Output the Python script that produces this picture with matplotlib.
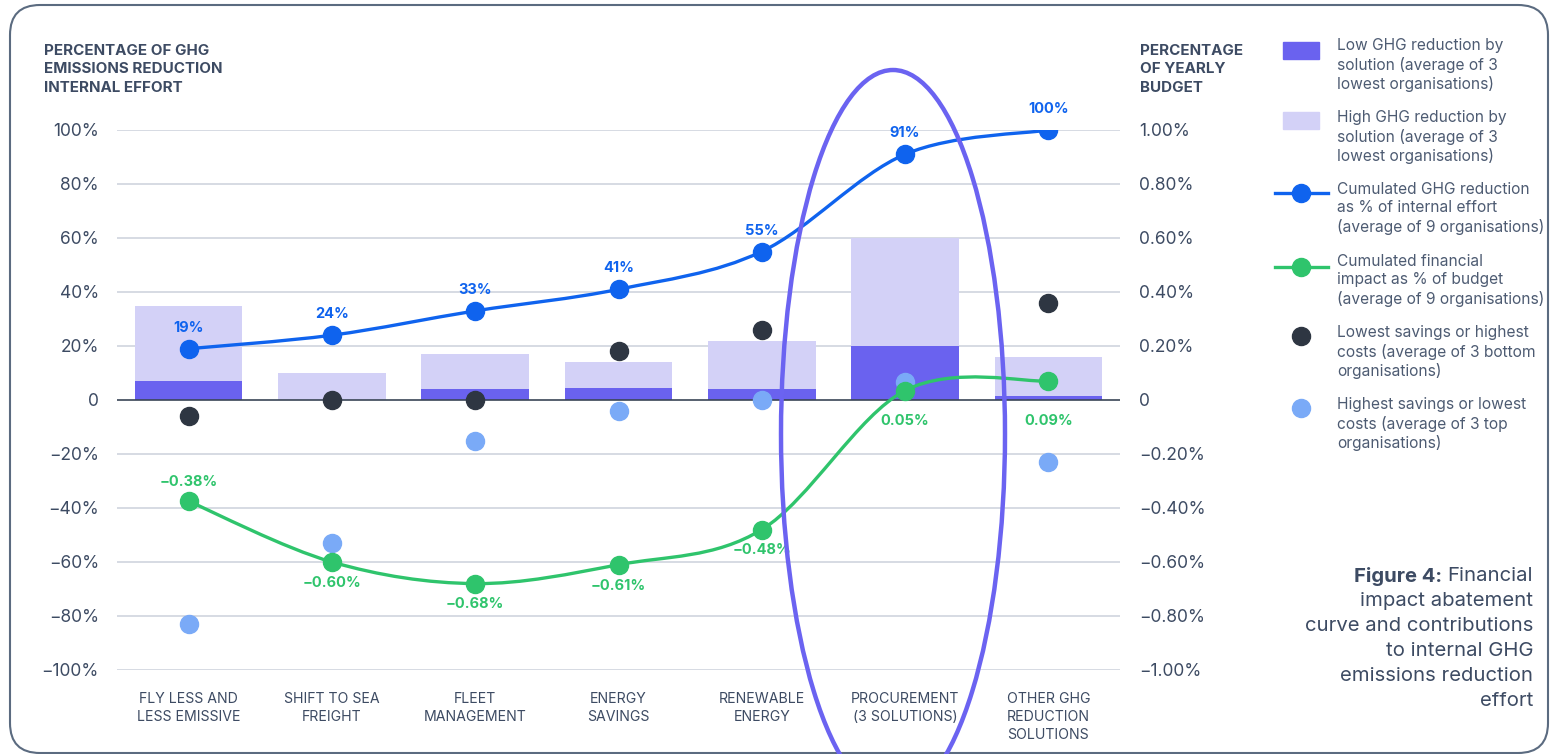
import numpy as np
import matplotlib
matplotlib.use("Agg")
import matplotlib.pyplot as plt
from matplotlib.path import Path
from matplotlib.patches import PathPatch, FancyBboxPatch, Ellipse, Rectangle
from matplotlib.lines import Line2D

plt.rcParams['font.family'] = ['Inter', 'DejaVu Sans']

# ---------------- data ----------------
categories = ["FLY LESS AND\nLESS EMISSIVE", "SHIFT TO SEA\nFREIGHT", "FLEET\nMANAGEMENT",
              "ENERGY\nSAVINGS", "RENEWABLE\nENERGY", "PROCUREMENT\n(3 SOLUTIONS)",
              "OTHER GHG\nREDUCTION\nSOLUTIONS"]
low_ghg = [7, 0, 4, 4.5, 4, 20, 1.5]          # % of internal effort
high_ghg = [35, 10, 17, 14, 22, 60, 16]       # % of internal effort
cum_ghg = [19, 24, 33, 41, 55, 91, 100]       # % of internal effort
cum_fin = [-0.375, -0.60, -0.68, -0.61, -0.48, 0.035, 0.07]   # % of budget (as drawn)
lowest_savings = [-0.06, 0.0, 0.0, 0.18, 0.26, np.nan, 0.36]
highest_savings = [-0.83, -0.53, -0.15, -0.04, 0.0, 0.065, -0.23]
left_ticks = [100, 80, 60, 40, 20, 0, -20, -40, -60, -80, -100]
left_tick_labels = ["100%", "80%", "60%", "40%", "20%", "0", "−20%", "−40%", "−60%", "−80%", "−100%"]
right_ticks = [1.0, 0.8, 0.6, 0.4, 0.2, 0, -0.2, -0.4, -0.6, -0.8, -1.0]
right_tick_labels = ["1.00%", "0.80%", "0.60%", "0.40%", "0.20%", "0", "−0.20%", "−0.40%", "−0.60%", "−0.80%", "−1.00%"]
ghg_labels = ["19%", "24%", "33%", "41%", "55%", "91%", "100%"]
fin_labels = ["−0.38%", "−0.60%", "−0.68%", "−0.61%", "−0.48%", "0.05%", "0.09%"]
fin_label_above = [True, False, False, False, False, False, False]

# ---------------- style ----------------
TXT = "#3d4b63"
LEG_TXT = "#4d5b72"
BLUE = "#0f63ee"
GREEN = "#2fc46c"
DARK = "#2e3642"
LIGHT = "#7aaaf7"
LOW_BAR = "#6a62ef"
HIGH_BAR = "#d3d1f7"
GRID = "#d3d8e0"
ELL = "#6b63f1"

W, H = 1550, 754
fig = plt.figure(figsize=(W / 100, H / 100), dpi=100)
fig.patch.set_facecolor("white")

x0, x1, ytop, ybot = 117, 1120, 130, 670
ax = fig.add_axes([x0 / W, 1 - ybot / H, (x1 - x0) / W, (ybot - ytop) / H])
ax2 = ax.twinx()
ax.set_zorder(1)
ax2.set_zorder(2)
ax.patch.set_visible(False)
ax2.patch.set_visible(False)

xs = np.arange(len(categories))
ax.set_xlim(-0.5, len(categories) - 0.5)
ax.set_ylim(-100, 100)
ax2.set_ylim(-1, 1)

for t in left_ticks:
    if t != 0:
        ax.axhline(t, color=GRID, lw=1.3, zorder=0)
ax.axhline(0, color="#3a4656", lw=1.2, zorder=2)

ax.bar(xs, high_ghg, width=0.75, color=HIGH_BAR, zorder=1)
ax.bar(xs, low_ghg, width=0.75, color=LOW_BAR, zorder=1.5)


def smooth_path(px, py):
    pts = np.column_stack([px, py]).astype(float)
    n = len(pts)
    verts = [pts[0]]
    codes = [Path.MOVETO]
    for i in range(n - 1):
        p0 = pts[max(i - 1, 0)]
        p1 = pts[i]
        p2 = pts[i + 1]
        p3 = pts[min(i + 2, n - 1)]
        verts += [p1 + (p2 - p0) / 6, p2 - (p3 - p1) / 6, p2]
        codes += [Path.CURVE4] * 3
    return Path(verts, codes)


ax.add_patch(PathPatch(smooth_path(xs, cum_ghg), fill=False, edgecolor=BLUE, lw=2.4, zorder=3))
ax.plot(xs, cum_ghg, "o", color=BLUE, ms=13, zorder=4)
for x, v, lab in zip(xs, cum_ghg, ghg_labels):
    ax.annotate(lab, (x, v), xytext=(0, 10), textcoords="offset points", ha="center", va="bottom",
                color=BLUE, fontsize=10.5, fontweight="bold", zorder=5)

ax2.plot(xs, lowest_savings, "o", color=DARK, ms=13, zorder=2)
ax2.plot(xs, highest_savings, "o", color=LIGHT, ms=13, zorder=2.5)
ax2.add_patch(PathPatch(smooth_path(xs, cum_fin), fill=False, edgecolor=GREEN, lw=2.4, zorder=3))
ax2.plot(xs, cum_fin, "o", color=GREEN, ms=13, zorder=4)
for x, v, lab, above in zip(xs, cum_fin, fin_labels, fin_label_above):
    anchor = v if above else min(v, 0)
    ax2.annotate(lab, (x, anchor), xytext=(0, 9 if above else -10), textcoords="offset points",
                 ha="center", va="bottom" if above else "top",
                 color=GREEN, fontsize=10.5, fontweight="bold", zorder=5)

for a in (ax, ax2):
    for s in a.spines.values():
        s.set_visible(False)

ax.set_yticks(left_ticks)
ax.set_yticklabels(left_tick_labels)
ax.tick_params(axis="y", length=0, pad=13, labelsize=12.5, labelcolor=TXT)
ax2.set_yticks(right_ticks)
ax2.set_yticklabels(right_tick_labels)
ax2.tick_params(axis="y", length=0, pad=14, labelsize=12.5, labelcolor=TXT)
ax.set_xticks(xs)
ax.set_xticklabels(categories, linespacing=1.35)
ax.tick_params(axis="x", length=0, pad=16, labelsize=10.2, labelcolor=TXT)

# ---------------- overlay (pixel coordinates) ----------------
ov = fig.add_axes([0, 0, 1, 1], zorder=10)
ov.set_xlim(0, W)
ov.set_ylim(H, 0)
ov.axis("off")
ov.patch.set_visible(False)

ov.add_patch(FancyBboxPatch((10, 5), 1538, 748, boxstyle="round,pad=0,rounding_size=30",
                            fill=False, edgecolor="#5b6b80", lw=1.5, clip_on=False))

ov.text(44, 44, "PERCENTAGE OF GHG\nEMISSIONS REDUCTION\nINTERNAL EFFORT", ha="left", va="top",
        fontsize=10.9, fontweight="bold", color=TXT, linespacing=1.4)
ov.text(1140, 44, "PERCENTAGE\nOF YEARLY\nBUDGET", ha="left", va="top",
        fontsize=10.9, fontweight="bold", color=TXT, linespacing=1.4)

# legend
ov.add_patch(Rectangle((1283, 42), 36, 17, color=LOW_BAR))
ov.add_patch(Rectangle((1283, 112), 36, 17, color=HIGH_BAR))
ov.add_line(Line2D([1275, 1328], [193, 193], color=BLUE, lw=2.4))
ov.plot([1301], [193], "o", color=BLUE, ms=13)
ov.add_line(Line2D([1275, 1328], [267, 267], color=GREEN, lw=2.4))
ov.plot([1301], [267], "o", color=GREEN, ms=13)
ov.plot([1301], [336], "o", color=DARK, ms=13)
ov.plot([1301], [408], "o", color=LIGHT, ms=13)
legend_texts = [
    (38, "Low GHG reduction by\nsolution (average of 3\nlowest organisations)"),
    (110, "High GHG reduction by\nsolution (average of 3\nlowest organisations)"),
    (182, "Cumulated GHG reduction\nas % of internal effort\n(average of 9 organisations)"),
    (254, "Cumulated financial\nimpact as % of budget\n(average of 9 organisations)"),
    (325, "Lowest savings or highest\ncosts (average of 3 bottom\norganisations)"),
    (397, "Highest savings or lowest\ncosts (average of 3 top\norganisations)"),
]
for y, t in legend_texts:
    ov.text(1337, y, t, ha="left", va="top", fontsize=11.2, color=LEG_TXT, linespacing=1.27)

# caption
cap_lines = ["impact abatement", "curve and contributions", "to internal GHG",
             "emissions reduction", "effort"]
fig.canvas.draw()
r = fig.canvas.get_renderer()
t1 = ov.text(1533, 576, "Financial", ha="right", va="center", fontsize=14.6, color=TXT)
wpx = t1.get_window_extent(renderer=r).width
ov.text(1533 - wpx - 5, 576, "Figure 4:", ha="right", va="center", fontsize=14.6,
        fontweight="bold", color=TXT)
for i, line in enumerate(cap_lines):
    ov.text(1533, 601 + 25 * i, line, ha="right", va="center", fontsize=14.6, color=TXT)

# highlight ellipse
ov.add_patch(Ellipse((893, 434), 224, 728, fill=False, edgecolor=ELL, lw=3.2, clip_on=False))

fig.savefig("out.png", dpi=100, facecolor="white")
